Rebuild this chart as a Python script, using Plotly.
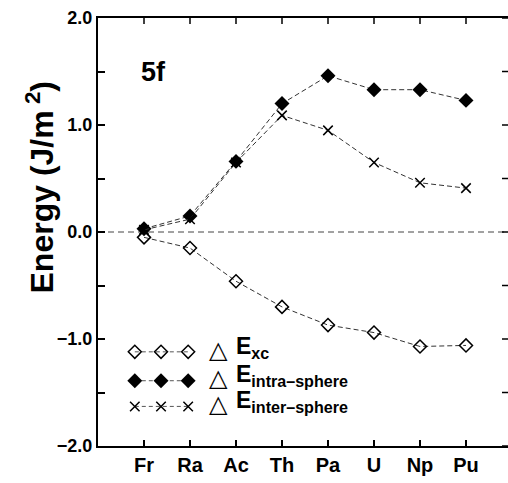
import plotly.graph_objects as go

# Elements along the actinide row
elements = ["Fr", "Ra", "Ac", "Th", "Pa", "U", "Np", "Pu"]

# Energy differences (J/m^2)
e_xc = [-0.05, -0.15, -0.46, -0.70, -0.87, -0.94, -1.07, -1.06]
e_intra = [0.03, 0.15, 0.66, 1.20, 1.46, 1.33, 1.33, 1.23]
e_inter = [0.02, 0.12, 0.65, 1.09, 0.95, 0.65, 0.46, 0.41]

y_tick_vals = [-2.0, -1.0, 0.0, 1.0, 2.0]
y_tick_text = ["\u22122.0", "\u22121.0", "0.0", "1.0", "2.0"]
y_minor_vals = [-1.5, -0.5, 0.5, 1.5]

series_names = ["xc", "intra\u2013sphere", "inter\u2013sphere"]

FONT = "Liberation Sans, Arial, sans-serif"
xpos = list(range(1, len(elements) + 1))

line_style = dict(color="#333333", width=1, dash="5px,3px")
styles = [
    dict(symbol="diamond-open", size=10, color="black", line=dict(width=1.5, color="black")),
    dict(symbol="diamond", size=11.5, color="black", line=dict(width=0, color="black")),
    dict(symbol="x-thin-open", size=9.5, color="black", line=dict(width=1.5, color="black")),
]

fig = go.Figure()
for vals, st, name in zip([e_xc, e_intra, e_inter], styles, series_names):
    fig.add_trace(go.Scatter(x=xpos, y=vals, mode="lines+markers", name=name,
                             line=line_style, marker=st, showlegend=False))

# Legend keys drawn inside the plot: three markers joined by a dashed line
key_x = [0.80, 1.37, 1.96]
key_y = [-1.12, -1.39, -1.63]
for ky, st in zip(key_y, styles):
    fig.add_trace(go.Scatter(x=key_x, y=[ky] * 3, mode="lines+markers",
                             line=dict(color="#555555", width=1, dash="4px,3px"),
                             marker=st, showlegend=False, hoverinfo="skip"))

fig_w, fig_h = 508, 483
m_l, m_r, m_t, m_b = 98, 0, 18, 37
plot_w = fig_w - m_l - m_r
plot_h = fig_h - m_t - m_b

def px(v):
    return v / plot_w

tri_y = [0.225, 0.160, 0.099]
for ty, name in zip(tri_y, series_names):
    fig.add_annotation(xref="paper", yref="paper", x=px(120), y=ty, text="\u25b3",
                       showarrow=False, xanchor="center", yanchor="middle",
                       font=dict(family="DejaVu Sans", size=24, color="black"))
    fig.add_annotation(xref="paper", yref="paper", x=px(136), y=ty + 0.004,
                       text="<b>E<sub>%s</sub></b>" % name,
                       showarrow=False, xanchor="left", yanchor="middle",
                       font=dict(family=FONT, size=23, color="black"))

# Dashed zero reference line
fig.add_shape(type="line", xref="paper", yref="y", x0=0, x1=1, y0=0, y1=0,
              line=dict(color="#444444", width=1, dash="6px,4px"), layer="below")

# Tick marks on the top and right frame edges
for xv in xpos:
    fig.add_shape(type="line", xref="x", yref="paper", x0=xv, x1=xv,
                  y0=1, y1=1 - 6 / plot_h, line=dict(color="black", width=1.5))
for yv in y_tick_vals + y_minor_vals:
    fig.add_shape(type="line", xref="paper", yref="y", x0=1, x1=1 - 6 / plot_w,
                  y0=yv, y1=yv, line=dict(color="black", width=1.5))

fig.add_annotation(xref="paper", yref="paper", x=px(55), y=0.874, text="<b>5f</b>",
                   showarrow=False, xanchor="center", yanchor="middle",
                   font=dict(family=FONT, size=27, color="black"))

fig.add_annotation(xref="paper", yref="paper", x=px(-58), y=0.604,
                   text="<b>Energy (J/m<sup> 2</sup>)</b>", textangle=-90,
                   showarrow=False, xanchor="center", yanchor="middle",
                   font=dict(family=FONT, size=32, color="black"))

fig.update_layout(
    width=fig_w, height=fig_h,
    margin=dict(l=m_l, r=m_r, t=m_t, b=m_b, pad=0, autoexpand=False),
    paper_bgcolor="white", plot_bgcolor="white",
    showlegend=False,
    xaxis=dict(range=[0, plot_w / 46], tickvals=xpos, ticktext=elements,
               ticks="inside", ticklen=6, tickwidth=1.5, tickcolor="black",
               showline=True, linewidth=2, linecolor="black", mirror=True,
               showgrid=False, zeroline=False, automargin=False,
               tickfont=dict(family=FONT, size=20, color="black", weight="bold")),
    yaxis=dict(range=[-2, 2], tickvals=y_tick_vals, ticktext=y_tick_text,
               ticks="inside", ticklen=7, tickwidth=1.5, tickcolor="black",
               minor=dict(tickvals=y_minor_vals, ticks="inside", ticklen=7,
                          tickwidth=1.5, tickcolor="black", showgrid=False),
               showline=True, linewidth=2, linecolor="black", mirror=True,
               showgrid=False, zeroline=False, automargin=False,
               tickfont=dict(family=FONT, size=18, color="black", weight="bold")),
)

fig.write_html("out.html")
